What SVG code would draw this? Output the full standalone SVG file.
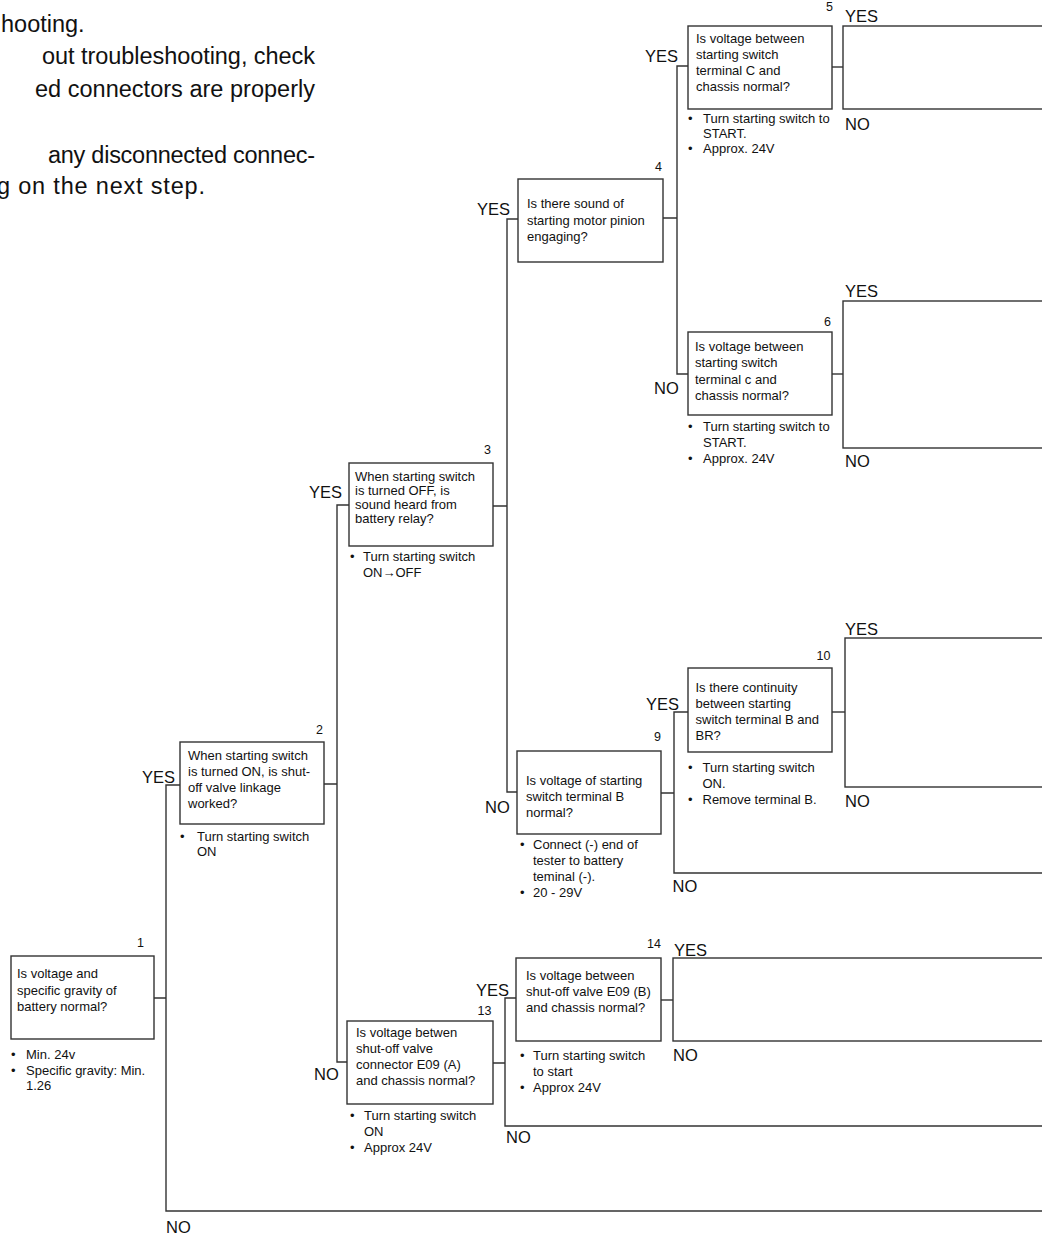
<svg xmlns="http://www.w3.org/2000/svg" width="1042" height="1234" viewBox="0 0 1042 1234">
<style>
text{font-family:"Liberation Sans",Arial,Helvetica,sans-serif;fill:#111}
.p{font-size:23.5px}
.q{font-size:13px}
.n{font-size:12.5px;text-anchor:end}
.yn{font-size:16.5px}
.box{fill:#fff;stroke:#333;stroke-width:1.4}
.ln{fill:none;stroke:#333;stroke-width:1.4}
</style>
<rect width="1042" height="1234" fill="#fff"/>

<!-- introductory paragraph (left edge cut) -->
<g id="intro" class="p">
  <text x="1" y="32">hooting.</text>
  <text x="42" y="64" textLength="273" lengthAdjust="spacing">out troubleshooting, check</text>
  <text x="35" y="96.5" textLength="280" lengthAdjust="spacing">ed connectors are properly</text>
  <text x="48" y="162.5" textLength="267" lengthAdjust="spacing">any disconnected connec-</text>
  <text x="-3" y="194" textLength="208" lengthAdjust="spacing">g on the next step.</text>
</g>

<!-- connectors and branch labels -->
<g id="connectors">
  <path class="ln" d="M180,785 H166 V1211 H1042 M154,998 H166"/>
  <path class="ln" d="M349,505 H337 V1062 H347 M324,784 H337"/>
  <path class="ln" d="M518,219 H507 V792 H517 M493,506 H507"/>
  <path class="ln" d="M688,66 H677 V374 H688 M663,218 H677"/>
  <path class="ln" d="M832,67 H843"/>
  <path class="ln" d="M832,374 H843"/>
  <path class="ln" d="M688,712 H674 V873 H1042 M661,793 H674"/>
  <path class="ln" d="M832,712 H845"/>
  <path class="ln" d="M516,998 H505 V1126 H1042 M493,1063 H505"/>
  <path class="ln" d="M661,1000 H673"/>
  <g class="yn">
    <text x="142" y="783">YES</text>
    <text x="166" y="1232.5">NO</text>
    <text x="309" y="498">YES</text>
    <text x="314" y="1080">NO</text>
    <text x="477" y="215">YES</text>
    <text x="485" y="812.5">NO</text>
    <text x="645" y="62">YES</text>
    <text x="654" y="394">NO</text>
    <text x="646" y="710">YES</text>
    <text x="672.5" y="892">NO</text>
    <text x="476" y="996">YES</text>
    <text x="506" y="1142.5">NO</text>
    <text x="845" y="22">YES</text>
    <text x="845" y="130">NO</text>
    <text x="845" y="297">YES</text>
    <text x="845" y="467">NO</text>
    <text x="845" y="635">YES</text>
    <text x="845" y="807">NO</text>
    <text x="674" y="956">YES</text>
    <text x="673" y="1061">NO</text>
  </g>
</g>

<!-- step 1 -->
<g id="step1">
  <rect class="box" x="11" y="956" width="143" height="83"/>
  <text class="n" x="144" y="946.5">1</text>
  <text class="q"><tspan x="17" y="978">Is voltage and</tspan><tspan x="17" y="994.5">specific gravity of</tspan><tspan x="17" y="1010.5">battery normal?</tspan></text>
  <text class="q"><tspan x="11" y="1058.5">•</tspan><tspan x="26" y="1058.5">Min. 24v</tspan><tspan x="11" y="1074.5">•</tspan><tspan x="26" y="1074.5">Specific gravity: Min.</tspan><tspan x="26" y="1090">1.26</tspan></text>
</g>

<!-- step 2 -->
<g id="step2">
  <rect class="box" x="180" y="742" width="144" height="82"/>
  <text class="n" x="323" y="733.5">2</text>
  <text class="q"><tspan x="188" y="760">When starting switch</tspan><tspan x="188" y="776">is turned ON, is shut-</tspan><tspan x="188" y="792">off valve linkage</tspan><tspan x="188" y="808">worked?</tspan></text>
  <text class="q"><tspan x="180" y="840.5">•</tspan><tspan x="197" y="840.5">Turn starting switch</tspan><tspan x="197" y="855.5">ON</tspan></text>
</g>

<!-- step 3 -->
<g id="step3">
  <rect class="box" x="349" y="463" width="144" height="83"/>
  <text class="n" x="491" y="454">3</text>
  <text class="q"><tspan x="355" y="481">When starting switch</tspan><tspan x="355" y="495">is turned OFF, is</tspan><tspan x="355" y="508.5">sound heard from</tspan><tspan x="355" y="523">battery relay?</tspan></text>
  <text class="q"><tspan x="350" y="561">•</tspan><tspan x="363" y="561">Turn starting switch</tspan><tspan x="363" y="576.5">ON→OFF</tspan></text>
</g>

<!-- step 4 -->
<g id="step4">
  <rect class="box" x="518" y="179" width="145" height="83"/>
  <text class="n" x="662" y="170.5">4</text>
  <text class="q"><tspan x="527" y="208">Is there sound of</tspan><tspan x="527" y="224.5">starting motor pinion</tspan><tspan x="527" y="240.5">engaging?</tspan></text>
</g>

<!-- step 5 -->
<g id="step5">
  <rect class="box" x="688" y="26" width="144" height="83"/>
  <text class="n" x="833" y="10.5">5</text>
  <text class="q"><tspan x="696" y="43">Is voltage between</tspan><tspan x="696" y="59">starting switch</tspan><tspan x="696" y="75">terminal C and</tspan><tspan x="696" y="91">chassis normal?</tspan></text>
  <text class="q"><tspan x="688" y="123">•</tspan><tspan x="703" y="123">Turn starting switch to</tspan><tspan x="703" y="138">START.</tspan><tspan x="688" y="153">•</tspan><tspan x="703" y="153">Approx. 24V</tspan></text>
</g>

<!-- step 6 -->
<g id="step6">
  <rect class="box" x="688" y="332" width="144" height="83"/>
  <text class="n" x="831" y="325.5">6</text>
  <text class="q"><tspan x="695" y="351">Is voltage between</tspan><tspan x="695" y="367">starting switch</tspan><tspan x="695" y="383.5">terminal c and</tspan><tspan x="695" y="399.5">chassis normal?</tspan></text>
  <text class="q"><tspan x="688" y="431">•</tspan><tspan x="703" y="431">Turn starting switch to</tspan><tspan x="703" y="447">START.</tspan><tspan x="688" y="463">•</tspan><tspan x="703" y="463">Approx. 24V</tspan></text>
</g>

<!-- step 9 -->
<g id="step9">
  <rect class="box" x="517" y="751" width="144" height="83"/>
  <text class="n" x="661" y="741">9</text>
  <text class="q"><tspan x="526" y="785">Is voltage of starting</tspan><tspan x="526" y="801">switch terminal B</tspan><tspan x="526" y="817">normal?</tspan></text>
  <text class="q"><tspan x="520" y="849">•</tspan><tspan x="533" y="849">Connect (-) end of</tspan><tspan x="533" y="865">tester to battery</tspan><tspan x="533" y="881">teminal (-).</tspan><tspan x="520" y="897">•</tspan><tspan x="533" y="897">20 - 29V</tspan></text>
</g>

<!-- step 10 -->
<g id="step10">
  <rect class="box" x="688" y="668" width="144" height="84"/>
  <text class="n" x="830.5" y="660">10</text>
  <text class="q"><tspan x="695.5" y="692">Is there continuity</tspan><tspan x="695.5" y="708">between starting</tspan><tspan x="695.5" y="724">switch terminal B and</tspan><tspan x="695.5" y="740">BR?</tspan></text>
  <text class="q"><tspan x="688" y="772">•</tspan><tspan x="702.5" y="772">Turn starting switch</tspan><tspan x="702.5" y="788">ON.</tspan><tspan x="688" y="804">•</tspan><tspan x="702.5" y="804">Remove terminal B.</tspan></text>
</g>

<!-- step 13 -->
<g id="step13">
  <rect class="box" x="347" y="1021" width="146" height="83"/>
  <text class="n" x="491.5" y="1015">13</text>
  <text class="q"><tspan x="356" y="1037">Is voltage betwen</tspan><tspan x="356" y="1053">shut-off valve</tspan><tspan x="356" y="1069">connector E09 (A)</tspan><tspan x="356" y="1085">and chassis normal?</tspan></text>
  <text class="q"><tspan x="350" y="1120">•</tspan><tspan x="364" y="1120">Turn starting switch</tspan><tspan x="364" y="1136">ON</tspan><tspan x="350" y="1152">•</tspan><tspan x="364" y="1152">Approx 24V</tspan></text>
</g>

<!-- step 14 -->
<g id="step14">
  <rect class="box" x="516" y="958" width="145" height="83"/>
  <text class="n" x="661" y="948">14</text>
  <text class="q"><tspan x="526" y="980">Is voltage between</tspan><tspan x="526" y="996">shut-off valve E09 (B)</tspan><tspan x="526" y="1012">and chassis normal?</tspan></text>
  <text class="q"><tspan x="520" y="1060">•</tspan><tspan x="533" y="1060">Turn starting switch</tspan><tspan x="533" y="1076">to start</tspan><tspan x="520" y="1092">•</tspan><tspan x="533" y="1092">Approx 24V</tspan></text>
</g>

<!-- outcome boxes (run off the right edge) -->
<g id="result5"><rect class="box" x="843" y="26" width="220" height="83"/></g>
<g id="result6"><rect class="box" x="843" y="301" width="220" height="147"/></g>
<g id="result10"><rect class="box" x="845" y="638" width="220" height="149"/></g>
<g id="result14"><rect class="box" x="673" y="958" width="390" height="83"/></g>
</svg>
